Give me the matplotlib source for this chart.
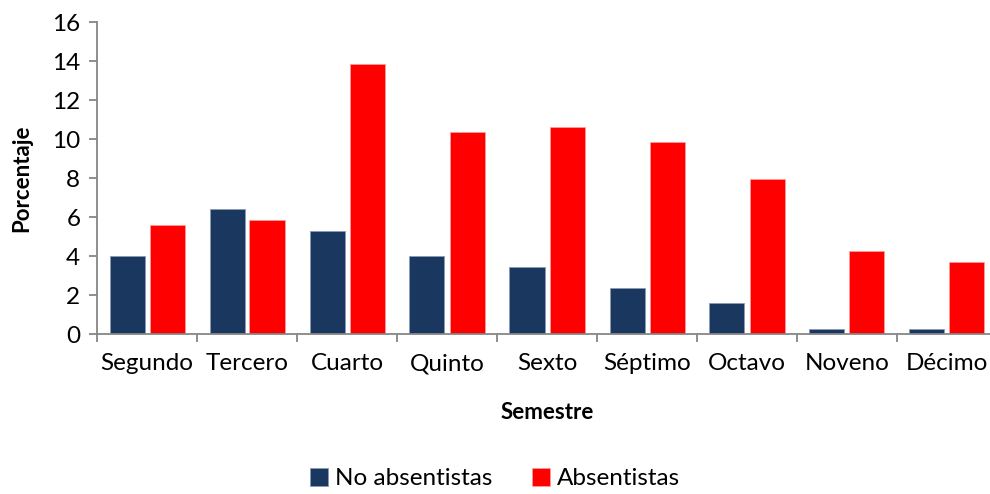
import matplotlib
matplotlib.use('Agg')
import matplotlib.pyplot as plt
import numpy as np

semestres = ['Segundo', 'Tercero', 'Cuarto', 'Quinto', 'Sexto', 'Séptimo', 'Octavo', 'Noveno', 'Décimo']
no_absentistas = [4.0, 6.4, 5.3, 4.0, 3.42, 2.36, 1.57, 0.24, 0.24]
absentistas = [5.6, 5.85, 13.85, 10.35, 10.63, 9.83, 7.95, 4.24, 3.71]

plt.rcParams['font.family'] = ['Lato', 'DejaVu Sans']

fig = plt.figure(figsize=(9.9, 4.94), dpi=100)
ax = fig.add_axes([97 / 990, 1 - 334 / 494, 900 / 990, 312 / 494])

x = np.arange(len(semestres))
w = 0.35
ax.bar(x - 0.2, no_absentistas, w, color='#1A3760', edgecolor='#8a9bb5', linewidth=0.6, label='No absentistas')
ax.bar(x + 0.2, absentistas, w, color='#FF0000', edgecolor='#ff9a9a', linewidth=0.6, label='Absentistas')

ax.set_xlim(-0.5, len(semestres) - 0.5)
ax.set_ylim(0, 16)
ax.set_yticks(range(0, 17, 2))
ax.set_xticks(x)
ax.set_xticklabels(semestres)
ax.set_xticks(np.arange(-0.5, len(semestres), 1), minor=True)
ax.tick_params(axis='x', which='major', length=0, pad=14, labelsize=17.5)
ax.tick_params(axis='x', which='minor', length=6, color='#868686', width=1.3)
ax.tick_params(axis='y', length=6, color='#868686', width=1.3, labelsize=17.5, pad=6)

for s in ['top', 'right']:
    ax.spines[s].set_visible(False)
for s in ['left', 'bottom']:
    ax.spines[s].set_color('#868686')
    ax.spines[s].set_linewidth(1.3)

ax.set_xlabel('Semestre', fontsize=16, fontweight='bold', labelpad=20)
ax.set_ylabel('Porcentaje', fontsize=16, fontweight='bold', labelpad=14)

fig.legend(loc='lower center', bbox_to_anchor=(0.5, -0.035), ncol=2, frameon=False,
           fontsize=17.5, handlelength=0.75, handleheight=0.75, handletextpad=0.3, columnspacing=1.6)

fig.savefig('out.png', dpi=100)
